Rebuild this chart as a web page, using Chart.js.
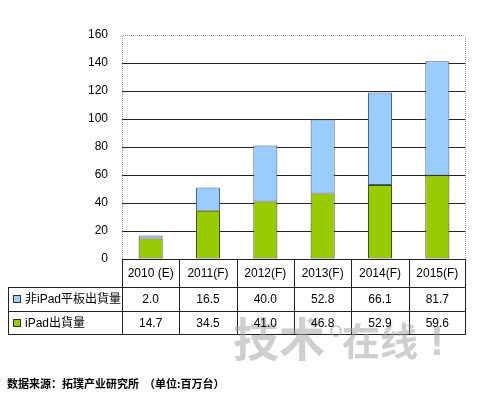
<!DOCTYPE html>
<html>
<head>
<meta charset="utf-8">
<script src="https://cdn.jsdelivr.net/npm/chart.js@4.4.0/dist/chart.umd.min.js"></script>
<style>
	html, body { margin: 0; padding: 0; background: #fff; }
	#wrap { position: relative; width: 479px; height: 396px; }
</style>
</head>
<body>
<div id="wrap"><canvas id="shipChart" width="479" height="396"></canvas></div>
<script>
var years = ['2010 (E)', '2011(F)', '2012(F)', '2013(F)', '2014(F)', '2015(F)'];
var otherTablets = [2.0, 16.5, 40.0, 52.8, 66.1, 81.7];
var ipadSales = [14.7, 34.5, 41.0, 46.8, 52.9, 59.6];
var otherLabel = '非iPad平板出貨量';
var ipadLabel = 'iPad出貨量';
var sourceNote = '数据来源：拓璞产业研究所  （单位:百万台）';
var watermark = ['技术', '在线', '!'];

var FONT = '"Liberation Sans", Arial, "Noto Sans CJK TC", sans-serif';
var BLUE = '#99ccff';
var GREEN = '#99cc00';

// rows of the table under the plot
var rowY = [259, 287, 311, 334];

var tablePlugin = {
	id: 'dataTable',
	afterDatasetsDraw: function(chart){
		var ctx = chart.ctx;
		var area = chart.chartArea;
		var x = chart.scales.x;
		var half = (area.right - area.left) / years.length / 2;
		ctx.save();

		// dotted plot border (top, left, right)
		ctx.strokeStyle = '#9a9a9a';
		ctx.lineWidth = 1;
		ctx.setLineDash([1, 1]);
		ctx.beginPath();
		ctx.moveTo(area.left + 0.5, area.bottom);
		ctx.lineTo(area.left + 0.5, area.top + 0.5);
		ctx.lineTo(area.right - 0.5, area.top + 0.5);
		ctx.lineTo(area.right - 0.5, area.bottom);
		ctx.stroke();
		ctx.setLineDash([]);

		// table grid
		var tl = 8;
		ctx.strokeStyle = '#222';
		ctx.beginPath();
		ctx.moveTo(area.left, rowY[0] + 0.5); ctx.lineTo(area.right, rowY[0] + 0.5);
		for (var r = 1; r < rowY.length; r++) {
			ctx.moveTo(tl, rowY[r] + 0.5); ctx.lineTo(area.right, rowY[r] + 0.5);
		}
		ctx.moveTo(tl + 0.5, rowY[1]); ctx.lineTo(tl + 0.5, rowY[3]);
		for (var i = 0; i < years.length; i++) {
			var edge = Math.round(x.getPixelForValue(i) - half) + 0.5;
			ctx.moveTo(edge, rowY[0]); ctx.lineTo(edge, rowY[3]);
		}
		ctx.moveTo(area.right - 0.5, rowY[0]); ctx.lineTo(area.right - 0.5, rowY[3]);
		ctx.stroke();

		// watermark
		var wm = 'rgba(160,160,160,0.5)';
		ctx.fillStyle = wm;
		ctx.textBaseline = 'alphabetic';
		ctx.textAlign = 'left';
		ctx.font = 'bold 46px "Noto Sans CJK SC", sans-serif';
		ctx.fillText(watermark[0], 233, 356);
		ctx.beginPath();
		ctx.arc(336, 331, 5, 0, Math.PI * 2);
		ctx.strokeStyle = wm;
		ctx.lineWidth = 2;
		ctx.stroke();
		ctx.font = 'bold 38px "Noto Sans CJK SC", sans-serif';
		ctx.fillText(watermark[1], 342, 355);
		ctx.font = 'bold 42px "Liberation Sans", sans-serif';
		ctx.fillText(watermark[2], 430, 355);

		// table text
		ctx.fillStyle = '#000';
		ctx.font = '12px ' + FONT;
		ctx.textAlign = 'center';
		ctx.textBaseline = 'middle';
		for (var j = 0; j < years.length; j++) {
			var cx = x.getPixelForValue(j);
			ctx.fillText(years[j], cx, (rowY[0] + rowY[1]) / 2 + 1);
			ctx.fillText(otherTablets[j].toFixed(1), cx, (rowY[1] + rowY[2]) / 2 + 1);
			ctx.fillText(ipadSales[j].toFixed(1), cx, (rowY[2] + rowY[3]) / 2 + 1);
		}

		// row keys
		var keys = [[otherLabel, BLUE], [ipadLabel, GREEN]];
		ctx.textAlign = 'left';
		ctx.font = '12px ' + FONT;
		for (var k = 0; k < keys.length; k++) {
			var my = Math.round((rowY[k + 1] + rowY[k + 2]) / 2);
			ctx.fillStyle = keys[k][1];
			ctx.fillRect(13, my - 4, 8, 8);
			ctx.strokeStyle = '#333';
			ctx.lineWidth = 1;
			ctx.strokeRect(13.5, my - 3.5, 7, 7);
			ctx.fillStyle = '#000';
			ctx.fillText(keys[k][0], 25, my + 1);
		}

		// source line
		ctx.font = 'bold 11px "Noto Sans CJK SC", sans-serif';
		ctx.fillText(sourceNote, 7, 384);
		ctx.restore();
	}
};

var chart = new Chart(document.getElementById('shipChart'), {
	type: 'bar',
	data: {
		labels: years,
		datasets: [
		{
			label: ipadLabel,
			data: ipadSales,
			backgroundColor: GREEN,
			borderColor: '#3a4a10',
			borderWidth: 1,
			borderSkipped: false,
			barPercentage: 0.42,
			categoryPercentage: 1
		},
		{
			label: otherLabel,
			data: otherTablets,
			backgroundColor: BLUE,
			borderColor: '#4a5a70',
			borderWidth: 1,
			borderSkipped: false,
			barPercentage: 0.42,
			categoryPercentage: 1
		}
		]
	},
	options: {
		responsive: false,
		animation: false,
		events: [],
		layout: { padding: { left: 0, right: 13, top: 35, bottom: 137 } },
		plugins: {
			legend: { display: false },
			tooltip: { enabled: false }
		},
		scales: {
			x: {
				stacked: true,
				display: false
			},
			y: {
				stacked: true,
				min: 0,
				max: 160,
				border: { display: false },
				afterFit: function(scale){ scale.width = 122; },
				grid: {
					drawTicks: false,
					color: function(c){
						var v = c.tick.value;
						if (v == 160 || v == 0) return 'rgba(0,0,0,0)';
						return '#222';
					}
				},
				ticks: {
					stepSize: 20,
					padding: 14,
					color: '#000',
					font: { family: FONT, size: 12 }
				}
			}
		}
	},
	plugins: [tablePlugin]
});
</script>
</body>
</html>
